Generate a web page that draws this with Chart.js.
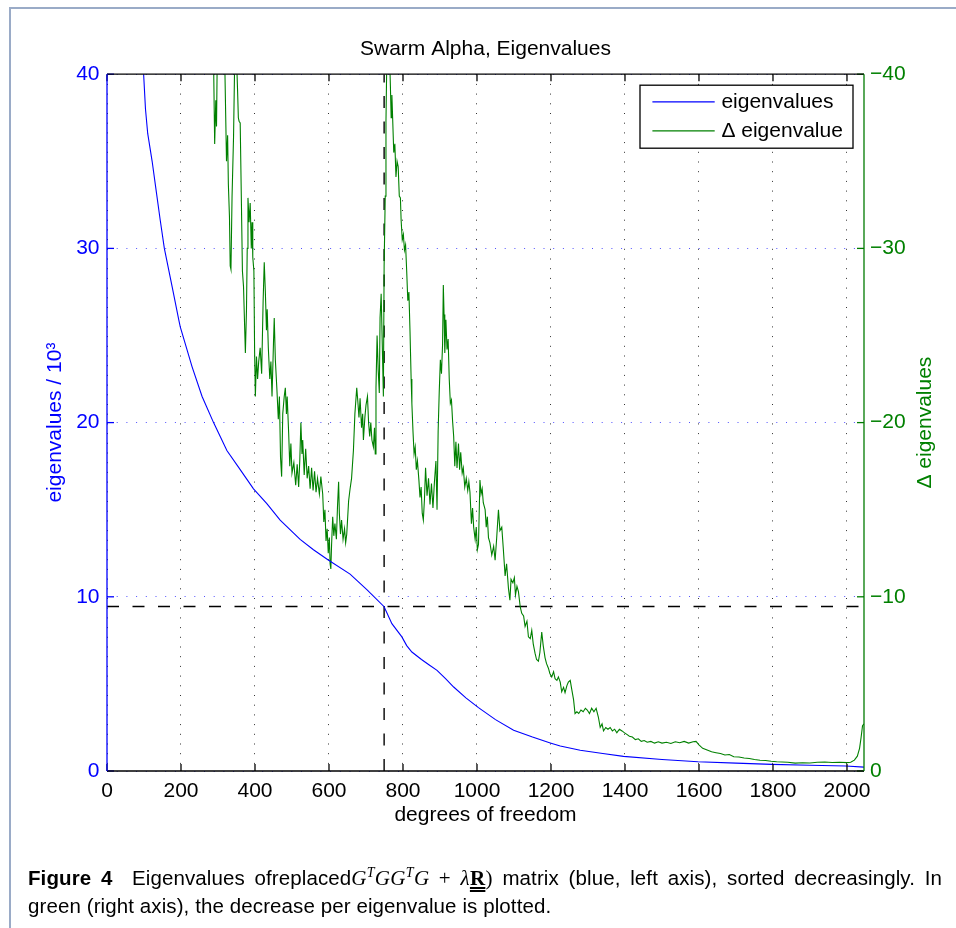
<!DOCTYPE html>
<html>
<head>
<meta charset="utf-8">
<script src="https://cdn.jsdelivr.net/npm/chart.js@4.4.0/dist/chart.umd.min.js"></script>
<style>
html, body { margin: 0; padding: 0; background: #fff; overflow: hidden; }
#wrap { position: relative; width: 956px; height: 928px; }
#frame { position: absolute; left: 9px; top: 7px; width: 990px; height: 990px; border: 2px solid #9aabc7; box-sizing: border-box; }
canvas { position: absolute; left: 0; top: 0; }
.cap { position: absolute; left: 28px; font-family: "Liberation Sans", Arial, sans-serif; font-size: 20.5px; line-height: 20.5px; letter-spacing: 0.1px; color: #000; white-space: nowrap; }
.just { width: 914px; white-space: normal; text-align: justify; text-align-last: justify; }
.m { font-family: "Liberation Serif", "DejaVu Serif", serif; font-size: 21px; letter-spacing: 0.3px; }
.m sup { font-size: 14px; line-height: 0; vertical-align: 8px; }
.R { font-weight: bold; text-decoration: underline double; }
</style>
</head>
<body>
<div id="wrap">
  <div id="frame"></div>
  <canvas id="lineChart" width="956" height="928"></canvas>
  <div class="cap just" style="top:867.5px"><b>Figure&nbsp;4</b>&nbsp;&nbsp;Eigenvalues ofreplaced<span class="m"><i>G</i><sup><i>T</i></sup><i>GG</i><sup><i>T</i></sup><i>G</i>&nbsp;+&nbsp;<i>λ</i><span class="R">R</span>)</span> matrix (blue, left axis), sorted decreasingly. In</div>
  <div class="cap" style="top:896px">green (right axis), the decrease per eigenvalue is plotted.</div>
</div>
<script>
var FONT = '"Liberation Sans", Arial, sans-serif';

var xTicks = [0, 200, 400, 600, 800, 1000, 1200, 1400, 1600, 1800, 2000];
var leftTicks = [0, 10, 20, 30, 40];
var rightTicks = [0, -10, -20, -30, -40];
var xMax = 2046;

// eigenvalues / 10^3 (blue, left axis)
var eigDof = [80, 99, 104, 110, 122, 131, 144, 155, 176, 194, 198, 230, 257, 288, 324, 360, 396, 432, 468, 522, 558,
  599, 657, 703, 749, 770, 797, 810, 824, 850, 870, 892, 915, 937, 970, 1004, 1050, 1099, 1150, 1198, 1225,
  1279, 1340, 1396, 1500, 1597, 1700, 1797, 1900, 1997, 2046];
var eigVal = [46, 40, 38, 36.6, 35.0, 33.6, 31.6, 30.0, 27.8, 25.9, 25.5, 23.2, 21.5, 20.0, 18.4, 17.3, 16.2, 15.35, 14.4, 13.3, 12.7,
  12.1, 11.3, 10.4, 9.43, 8.46, 7.7, 7.2, 6.83, 6.4, 6.1, 5.78, 5.3, 4.82, 4.2, 3.64, 2.95, 2.34, 1.95, 1.61, 1.43,
  1.19, 1.0, 0.84, 0.66, 0.53, 0.45, 0.38, 0.33, 0.29, 0.22];

// decrease per eigenvalue (green, right axis)
var deltaDof = [286, 291, 294, 296, 298, 303, 310, 318, 323, 326, 328, 331, 333, 335, 338, 342, 346, 350, 353, 355,
  357, 360, 363, 366, 369, 372, 374, 377, 379, 381, 384, 387, 390, 392, 394, 397, 399, 401, 404, 407,
  410, 414, 418, 422, 425, 428, 431, 433, 436, 440, 443, 446, 450, 452, 455, 459, 463, 466, 469, 472,
  475, 479, 482, 485, 487, 491, 494, 497, 500, 505, 510, 514, 518, 521, 524, 527, 529, 533, 537, 541,
  545, 549, 553, 557, 561, 565, 569, 574, 578, 583, 586, 589, 592, 595, 598, 601, 603, 605, 607, 610,
  613, 616, 620, 623, 626, 628, 631, 634, 638, 642, 645, 648, 653, 657, 661, 666, 670, 675, 678, 681,
  684, 688, 691, 693, 697, 700, 704, 707, 710, 713, 716, 720, 723, 725, 727, 730, 733, 736, 738, 741,
  744, 747, 749, 752, 754, 757, 760, 763, 766, 768, 770, 772, 775, 778, 781, 784, 787, 790, 793, 795,
  798, 801, 804, 807, 810, 813, 816, 819, 822, 824, 827, 830, 833, 836, 839, 843, 846, 849, 852, 855,
  858, 861, 865, 869, 873, 877, 881, 885, 889, 892, 895, 898, 901, 904, 907, 909, 911, 913, 916, 919,
  922, 925, 928, 931, 934, 937, 940, 943, 946, 950, 953, 956, 960, 963, 967, 971, 975, 978, 981, 985,
  988, 991, 995, 998, 1001, 1004, 1008, 1011, 1014, 1017, 1022, 1025, 1028, 1031, 1035, 1040, 1045, 1049, 1053, 1058,
  1062, 1067, 1071, 1076, 1080, 1085, 1089, 1092, 1097, 1101, 1104, 1108, 1112, 1117, 1121, 1126, 1130, 1135, 1139, 1144,
  1148, 1152, 1157, 1161, 1166, 1170, 1175, 1179, 1184, 1188, 1193, 1197, 1202, 1207, 1211, 1216, 1220, 1225, 1229, 1234,
  1238, 1243, 1247, 1252, 1256, 1261, 1265, 1270, 1275, 1281, 1287, 1293, 1298, 1304, 1310, 1316, 1322, 1328, 1333, 1338,
  1342, 1348, 1354, 1360, 1366, 1372, 1378, 1385, 1392, 1398, 1405, 1412, 1420, 1428, 1436, 1444, 1452, 1460, 1470, 1480,
  1490, 1500, 1512, 1524, 1536, 1548, 1560, 1572, 1584, 1592, 1600, 1610, 1622, 1634, 1646, 1658, 1670, 1682, 1694, 1708,
  1722, 1736, 1750, 1765, 1780, 1795, 1810, 1825, 1840, 1860, 1880, 1900, 1920, 1940, 1960, 1980, 2000, 2010, 2020, 2028,
  2034, 2038, 2042, 2046];
var deltaVal = [-44, -36, -38.5, -37, -41, -42, -43, -41, -35, -36.5, -33.7, -31.8, -29, -28.8, -33, -36.4, -42, -41, -39, -37.5,
  -37.3, -37.2, -33, -28.7, -27.8, -25.5, -24, -26.5, -30, -32.9, -31.5, -32.6, -30, -31.5, -29.5, -28.7, -24, -21.5, -23.8, -22.5,
  -23.5, -24.3, -22.8, -27, -29.2, -27.5, -25.3, -26.5, -24.3, -22.5, -23.5, -21.5, -24.6, -26, -23.6, -22, -20.2, -21.5, -18, -16.9,
  -20.5, -21.5, -22, -20.5, -21.5, -19.4, -17.5, -18.8, -17.1, -17.7, -16.4, -17.6, -16.3, -17.8, -20, -18.2, -19, -17, -18.5, -16.8,
  -17.5, -16.2, -17.4, -16.1, -17.2, -16, -16.8, -15.9, -16.9, -15.9, -14.3, -15, -13.2, -13.9, -12.5, -13.4, -11.9, -11.6, -13, -14.6,
  -13.5, -14.2, -13.3, -15.2, -16.6, -14.8, -13.6, -14.4, -13.3, -13.9, -13.1, -13.6, -15.5, -16.2, -16.8, -18.4, -20.5, -22, -21.2, -20.3,
  -21.4, -19.7, -20.5, -19, -20.3, -21, -21.5, -20, -19.2, -20, -19, -18.6, -19.7, -18.2, -22, -25, -23, -21.7, -26, -27.4,
  -24.5, -21.5, -29, -33, -37.3, -42, -43, -41.5, -39.3, -37.5, -38.8, -37.5, -35.5, -36, -34.1, -35, -34.7, -33, -32.9, -31.6,
  -30.5, -30.8, -29.9, -30.2, -28.7, -27, -27.5, -25.2, -22.5, -21.1, -19.5, -18.2, -18.6, -17.3, -17.8, -16.7, -15.7, -16.3, -14.8, -14.4,
  -15.6, -17.4, -15.8, -16.8, -15.3, -16.5, -15.1, -16.6, -17.8, -15, -19.5, -21.8, -23.6, -22.8, -24.5, -27.9, -26.2, -24, -25.9, -24.2,
  -24.8, -22.5, -21.1, -21.3, -20.1, -19.2, -17.5, -18.9, -17.4, -18.8, -17.3, -18.3, -17.1, -17.4, -16.3, -16.8, -16.1, -16.6, -16, -14.2,
  -15.1, -14, -13.3, -14, -12.7, -13, -16.7, -15.9, -16.2, -15.4, -15, -14, -14.6, -13.4, -13.1, -12.4, -12.9, -12.1, -13.3, -15,
  -13.8, -14, -12.8, -11.2, -11.9, -10.5, -9.8, -11, -10.8, -11.1, -10.1, -10.6, -10.3, -9.4, -9.05, -8.9, -8.3, -8.6, -7.7, -7.6,
  -8.07, -7.3, -6.75, -6.4, -6.3, -6.8, -7.98, -7.2, -6.5, -6.16, -5.9, -5.6, -5.4, -5.7, -5.3, -5.2, -5.4, -5.1, -4.55, -4.8,
  -4.5, -4.9, -5.1, -5.2, -4.7, -4.1, -3.3, -3.4, -3.3, -3.5, -3.4, -3.6, -3.5, -3.3, -3.6, -3.4, -3.6, -3.1, -2.5, -2.7,
  -2.3, -2.5, -2.4, -2.5, -2.3, -2.4, -2.2, -2.4, -2.3, -2.2, -2.1, -2.0, -1.95, -1.8, -1.85, -1.7, -1.75, -1.65, -1.7, -1.6,
  -1.68, -1.6, -1.65, -1.58, -1.68, -1.62, -1.7, -1.6, -1.68, -1.7, -1.5, -1.3, -1.2, -1.1, -1.05, -1.0, -0.92, -0.95, -0.82, -0.8,
  -0.75, -0.72, -0.66, -0.62, -0.6, -0.56, -0.53, -0.52, -0.5, -0.45, -0.47, -0.46, -0.5, -0.52, -0.49, -0.5, -0.48, -0.5, -0.62, -0.85,
  -1.3, -1.9, -2.6, -2.7];

// dashed cut lines
var cutDof = 749;
var cutVal = 9.44;

function pts(xs, ys) {
    return xs.map(function (x, i) { return { x: x, y: ys[i] }; });
}
function signed(v) {
    return v < 0 ? '\u2212' + (-v) : String(v);
}

var axesOverlay = {
    id: 'axesOverlay',
    afterDatasetsDraw: function (chart) {
        var ctx = chart.ctx, a = chart.chartArea;
        var sx = chart.scales.x, sy = chart.scales.y, sy2 = chart.scales.y2;
        function seg(x1, y1, x2, y2, col) {
            ctx.strokeStyle = col;
            ctx.beginPath(); ctx.moveTo(x1, y1); ctx.lineTo(x2, y2); ctx.stroke();
        }
        ctx.save();
        ctx.lineWidth = 1.3;
        xTicks.forEach(function (v) {
            var px = sx.getPixelForValue(v);
            seg(px, a.top, px, a.top + 7, '#000');
            seg(px, a.bottom, px, a.bottom - 7, '#000');
        });
        leftTicks.forEach(function (v) {
            var py = sy.getPixelForValue(v);
            seg(a.left, py, a.left + 7, py, '#0000ff');
        });
        rightTicks.forEach(function (v) {
            var py = sy2.getPixelForValue(v);
            seg(a.right, py, a.right - 7, py, '#007a00');
        });
        seg(a.left, a.top, a.right, a.top, '#000');
        seg(a.left, a.bottom, a.right, a.bottom, '#000');
        seg(a.left, a.top, a.left, a.bottom, '#0000ff');
        seg(a.right, a.top, a.right, a.bottom, '#007a00');

        // legend box
        var bx = a.right - 224, by = a.top + 11, bw = 213, bh = 63;
        ctx.fillStyle = '#fff';
        ctx.fillRect(bx, by, bw, bh);
        ctx.lineWidth = 1.3;
        ctx.strokeStyle = '#000';
        ctx.strokeRect(bx, by, bw, bh);
        ctx.font = '21px ' + FONT;
        ctx.textBaseline = 'middle';
        ctx.textAlign = 'left';
        [0, 1].forEach(function (i) {
            var ds = chart.data.datasets[i];
            var ly = by + 16.6 + i * 29;
            ctx.lineWidth = 1.2;
            seg(bx + 12.4, ly, bx + 74.7, ly, ds.borderColor);
            ctx.fillStyle = '#000';
            ctx.fillText(ds.label, bx + 81.4, ly);
        });

        // right axis title
        ctx.save();
        ctx.translate(925, (a.top + a.bottom) / 2);
        ctx.rotate(-Math.PI / 2);
        ctx.textAlign = 'center';
        ctx.fillStyle = '#008000';
        ctx.fillText('\u0394 eigenvalues', 0, 0);
        ctx.restore();
        ctx.restore();
    }
};

var ctx = document.getElementById('lineChart').getContext('2d');
var myChart = new Chart(ctx, {
    type: 'line',
    data: {
        datasets: [{
            label: 'eigenvalues',
            data: pts(eigDof, eigVal),
            yAxisID: 'y',
            borderColor: '#0000ff',
            borderWidth: 1.1,
            pointRadius: 0
        }, {
            label: '\u0394 eigenvalue',
            data: pts(deltaDof, deltaVal),
            yAxisID: 'y2',
            borderColor: '#008000',
            borderWidth: 1.1,
            pointRadius: 0
        }, {
            label: 'cut dof',
            data: [{ x: cutDof, y: leftTicks[0] }, { x: cutDof, y: leftTicks[leftTicks.length - 1] }],
            yAxisID: 'y',
            borderColor: '#000',
            borderWidth: 1.4,
            borderDash: [12, 13.5],
            pointRadius: 0
        }, {
            label: 'cut value',
            data: [{ x: 0, y: cutVal }, { x: xMax, y: cutVal }],
            yAxisID: 'y',
            borderColor: '#000',
            borderWidth: 1.4,
            borderDash: [12, 13.5],
            pointRadius: 0
        }]
    },
    options: {
        responsive: false,
        animation: false,
        devicePixelRatio: 1,
        layout: { padding: 0 },
        plugins: {
            legend: { display: false },
            tooltip: { enabled: false },
            title: {
                display: true,
                text: 'Swarm Alpha, Eigenvalues',
                fullSize: false,
                color: '#000',
                font: { family: FONT, size: 21, weight: 'normal', lineHeight: 1.2 },
                padding: { top: 37, bottom: 12 }
            }
        },
        scales: {
            x: {
                type: 'linear',
                min: 0,
                max: xMax,
                afterBuildTicks: function (s) { s.ticks = xTicks.map(function (v) { return { value: v }; }); },
                afterFit: function (s) { s.height = 157; },
                grid: { color: '#333', lineWidth: 1, drawTicks: false },
                border: { display: false, dash: [1, 8.7] },
                ticks: { color: '#000', font: { family: FONT, size: 21 }, padding: 8, maxRotation: 0, autoSkip: false,
                    callback: function (v) { return String(v); } },
                title: { display: true, text: 'degrees of freedom', color: '#000',
                    font: { family: FONT, size: 21 }, padding: { top: 0, bottom: 100 } }
            },
            y: {
                position: 'left',
                min: 0,
                max: 40,
                afterBuildTicks: function (s) { s.ticks = leftTicks.map(function (v) { return { value: v }; }); },
                afterFit: function (s) { s.width = 107; },
                grid: { color: '#5050ff', lineWidth: 1, drawTicks: false },
                border: { display: false, dash: [1, 8.7] },
                ticks: { color: '#0000ff', font: { family: FONT, size: 21 }, padding: 7.5,
                    callback: function (v) { return String(v); } },
                title: { display: true, text: 'eigenvalues / 10\u00b3', color: '#0000ff',
                    font: { family: FONT, size: 21 }, padding: { top: 43, bottom: 0 } }
            },
            y2: {
                position: 'right',
                min: -40,
                max: 0,
                reverse: true,
                afterBuildTicks: function (s) { s.ticks = rightTicks.map(function (v) { return { value: v }; }); },
                afterFit: function (s) { s.width = 92; },
                grid: { display: false, drawTicks: false },
                border: { display: false },
                ticks: { color: '#008000', font: { family: FONT, size: 21 }, padding: 6, callback: signed }
            }
        }
    },
    plugins: [axesOverlay]
});
</script>
</body>
</html>
